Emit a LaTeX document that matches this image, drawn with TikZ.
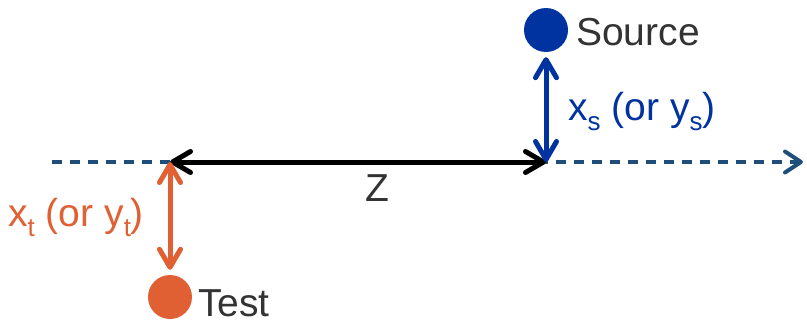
\documentclass[tikz,border=0pt]{standalone}
\usepackage{fontspec}
\setmainfont{Liberation Sans}
\usetikzlibrary{arrows.meta}
\definecolor{srcblue}{RGB}{0,51,160}
\definecolor{navy}{RGB}{31,78,121}
\definecolor{testor}{RGB}{224,96,52}
\definecolor{txtgray}{RGB}{51,51,51}
\newcommand\subs[1]{\raisebox{-0.28em}{\fontsize{26}{26}\selectfont #1}}
\tikzset{
  dot/.style={circle,inner sep=0pt,minimum size=44pt},
  lbl/.style={inner sep=0pt,font=\fontsize{39}{39}\selectfont},
  hd/.tip={Straight Barb[length=18pt,width=21pt,line cap=round,line join=round]},
  chev/.style={hd-hd, line width=5pt, line cap=round, line join=round},
}
\begin{document}
\begin{tikzpicture}[x=1pt,y=-1pt]
\useasboundingbox (0,0) rectangle (807,324);
\node[dot,fill=srcblue] (src) at (546,30) {};
\node[dot,fill=testor] (test) at (170,297) {};
\coordinate (L) at (52,162);
\coordinate (R) at (803,162);
\coordinate (A) at (170,162);
\coordinate (B) at (546,162);
\draw[navy,line width=4pt,dash pattern=on 10pt off 8pt,-{Straight Barb[length=16pt,width=21pt,line cap=round,line join=round]}] (L) -- (R);
\draw[chev,black] (A) -- (B);
\draw[chev,srcblue] (B) -- ([yshift=-5pt]src.south);
\draw[chev,testor] (A) -- ([yshift=5pt]test.north);
\node[lbl,anchor=west,text=txtgray] (srclbl) at (576,32) {Source};
\node[lbl,anchor=west,text=txtgray] (testlbl) at (198,303) {Test};
\node[lbl,text=txtgray] (zlbl) at (377,188) {Z};
\node[lbl,anchor=base west,text=srcblue] (xs) at (568,120) {x\subs{s} (or y\subs{s})};
\node[lbl,anchor=base west,text=testor] (xt) at (8,226) {x\subs{t} (or y\subs{t})};
\end{tikzpicture}
\end{document}
